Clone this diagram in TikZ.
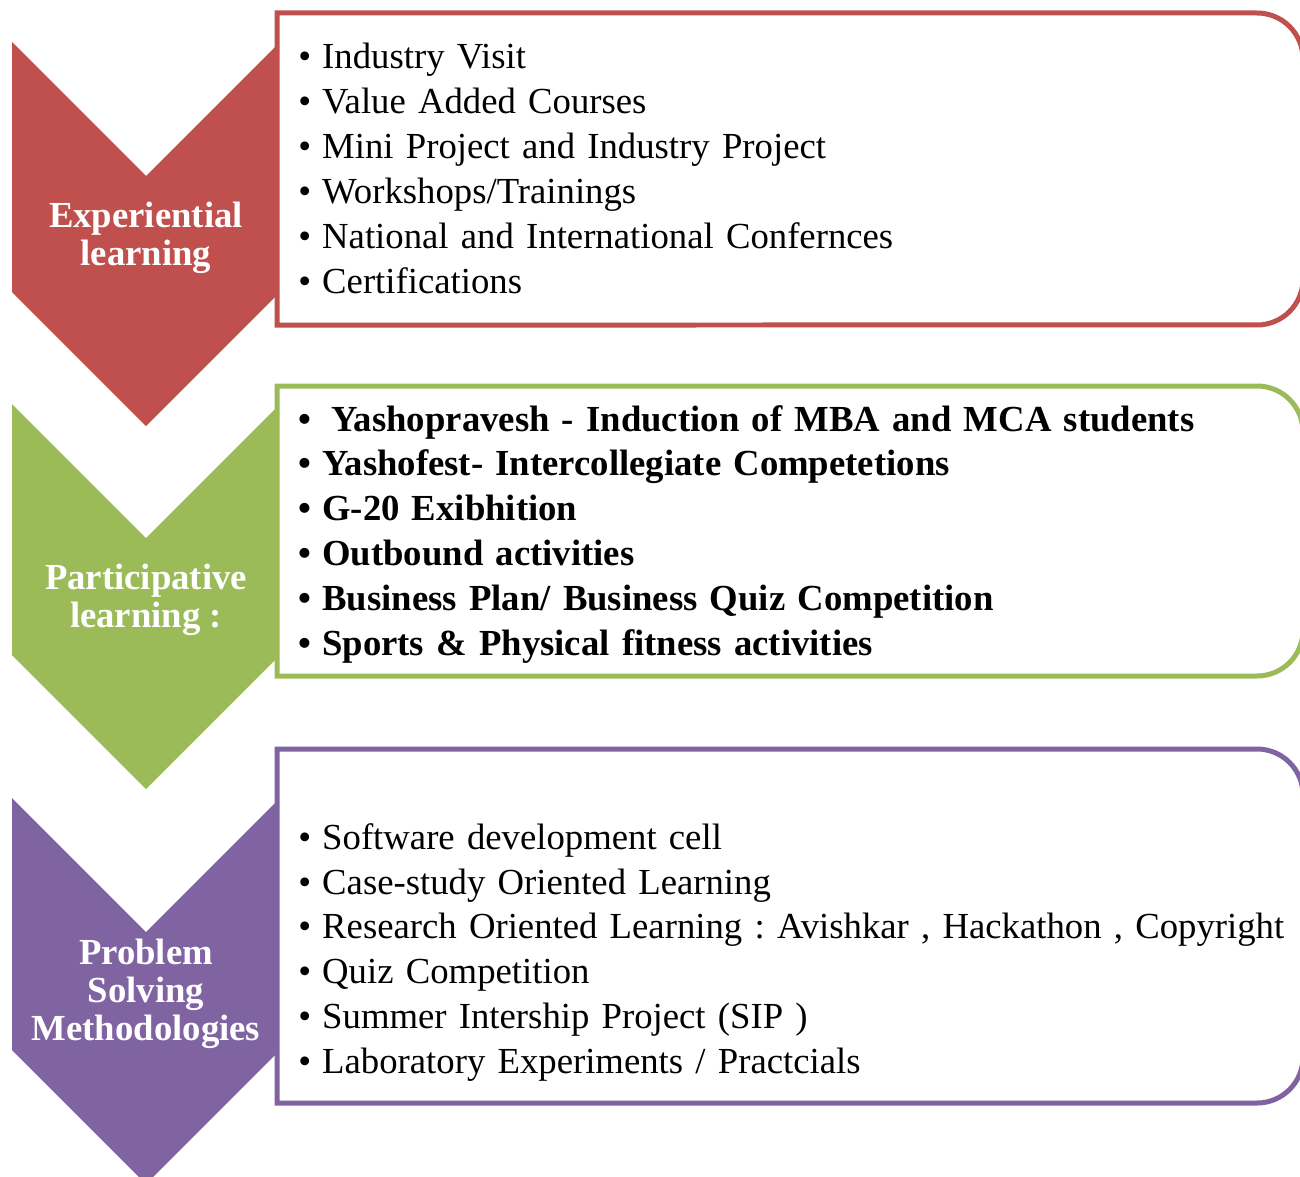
\documentclass[tikz,border=0pt]{standalone}
\usepackage{fontspec}
\setmainfont{Liberation Serif}
\usetikzlibrary{positioning}
\definecolor{expred}{HTML}{C0504D}
\definecolor{partgreen}{HTML}{9BBB59}
\definecolor{probpurple}{HTML}{8064A2}
\frenchspacing

\begin{document}
\begin{tikzpicture} [x=0.02cm, y=-0.02cm, node distance=0.9cm]
	\tikzset{item/.style={inner sep=0pt, text width=22cm, align=left, text height=0.7em, text depth=0.25em, font=\fontsize{20.9}{25}\selectfont}}
	\tikzset{bolditem/.style={item, font=\fontsize{20.9}{25}\selectfont\bfseries}}
	\tikzset{lbl/.style={text=white, align=center, inner sep=0pt, font=\fontsize{20.9}{21.6}\selectfont\bfseries}}
	\tikzset{box/.style={line width=0.1cm, fill=white}}
	\useasboundingbox (0,0) rectangle (1300,1176);

	\fill[expred]		(12,42) -- (146,176) -- (280,42) -- (280,292) -- (146,426) -- (12,292) -- cycle;
	\fill[partgreen]	(12,404) -- (146,538) -- (280,404) -- (280,655) -- (146,789) -- (12,655) -- cycle;
	\fill[probpurple]	(12,798) -- (146,932) -- (280,798) -- (280,1050) -- (146,1184) -- (12,1050) -- cycle;

	\draw[box, draw=expred]		(277,13) -- (1257,13) arc[start angle=90, end angle=0, radius=0.92cm]
		-- (1303,279) arc[start angle=0, end angle=-90, radius=0.92cm] -- (277,325) -- cycle;
	\draw[box, draw=partgreen]	(277,386) -- (1257,386) arc[start angle=90, end angle=0, radius=0.92cm]
		-- (1303,630) arc[start angle=0, end angle=-90, radius=0.92cm] -- (277,676) -- cycle;
	\draw[box, draw=probpurple]	(277,749) -- (1257,749) arc[start angle=90, end angle=0, radius=0.92cm]
		-- (1303,1057) arc[start angle=0, end angle=-90, radius=0.92cm] -- (277,1103) -- cycle;

	\node[lbl]	(exp)	at (146,238)	{Experiential\\learning};
	\node[lbl]	(part)	at (146,600)	{Participative\\learning :};
	\node[lbl]	(prob)	at (146,994)	{Problem\\Solving\\Methodologies};

	\node[item]	(e1) at (298,69) [anchor=base west]	{\textbullet\hspace{0.3em}Industry Visit};
	\node[item]	(e2) [below of=e1]	{\textbullet\hspace{0.3em}Value Added Courses};
	\node[item]	(e3) [below of=e2]	{\textbullet\hspace{0.3em}Mini Project and Industry Project};
	\node[item]	(e4) [below of=e3]	{\textbullet\hspace{0.3em}Workshops/Trainings};
	\node[item]	(e5) [below of=e4]	{\textbullet\hspace{0.3em}National and International Confernces};
	\node[item]	(e6) [below of=e5]	{\textbullet\hspace{0.3em}Certifications};

	\node[bolditem]	(p1) at (298,431) [anchor=base west]	{\textbullet\hspace{0.55em}Yashopravesh - Induction of MBA and MCA students};
	\node[bolditem]	(p2) [below of=p1]	{\textbullet\hspace{0.3em}Yashofest- Intercollegiate Competetions};
	\node[bolditem]	(p3) [below of=p2]	{\textbullet\hspace{0.3em}G-20 Exibhition};
	\node[bolditem]	(p4) [below of=p3]	{\textbullet\hspace{0.3em}Outbound activities};
	\node[bolditem]	(p5) [below of=p4]	{\textbullet\hspace{0.3em}Business Plan/ Business Quiz Competition};
	\node[bolditem]	(p6) [below of=p5]	{\textbullet\hspace{0.3em}Sports \& Physical fitness activities};

	\node[item]	(s1) at (298,849) [anchor=base west]	{\textbullet\hspace{0.3em}Software development cell};
	\node[item]	(s2) [below of=s1]	{\textbullet\hspace{0.3em}Case-study Oriented Learning};
	\node[item]	(s3) [below of=s2]	{\textbullet\hspace{0.3em}Research Oriented Learning : Avishkar , Hackathon , Copyright};
	\node[item]	(s4) [below of=s3]	{\textbullet\hspace{0.3em}Quiz Competition};
	\node[item]	(s5) [below of=s4]	{\textbullet\hspace{0.3em}Summer Intership Project (SIP )};
	\node[item]	(s6) [below of=s5]	{\textbullet\hspace{0.3em}Laboratory Experiments / Practcials};
\end{tikzpicture}
\end{document}
